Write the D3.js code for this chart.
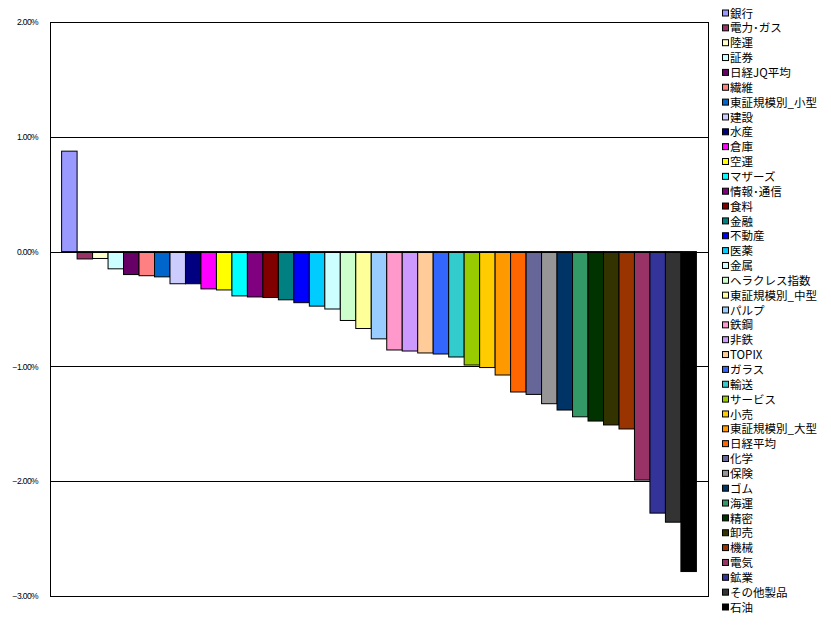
<!DOCTYPE html>
<html>
<head>
<meta charset="utf-8">
<script src="https://cdn.jsdelivr.net/npm/d3@7"></script>
<style>
  html, body { margin: 0; padding: 0; background: #fff; }
  svg { display: block; }
</style>
</head>
<body>
<svg id="chart" width="831" height="629"></svg>
<script>
const categories = ["銀行","電力･ガス","陸運","証券","日経JQ平均","繊維","東証規模別_小型","建設","水産","倉庫","空運","マザーズ","情報･通信","食料","金融","不動産","医薬","金属","ヘラクレス指数","東証規模別_中型","パルプ","鉄鋼","非鉄","TOPIX","ガラス","輸送","サービス","小売","東証規模別_大型","日経平均","化学","保険","ゴム","海運","精密","卸売","機械","電気","鉱業","その他製品","石油"];
const values = [0.875,-0.064,-0.06,-0.15,-0.20,-0.21,-0.22,-0.28,-0.28,-0.325,-0.334,-0.386,-0.395,-0.40,-0.42,-0.445,-0.475,-0.50,-0.60,-0.67,-0.76,-0.857,-0.866,-0.883,-0.892,-0.918,-0.988,-1.01,-1.075,-1.223,-1.244,-1.325,-1.38,-1.439,-1.476,-1.51,-1.545,-1.99,-2.278,-2.357,-2.787];
const colors = ["#9999FF","#993366","#FFFFCC","#CCFFFF","#660066","#FF8080","#0066CC","#CCCCFF","#000080","#FF00FF","#FFFF00","#00FFFF","#800080","#800000","#008080","#0000FF","#00CCFF","#CCFFFF","#CCFFCC","#FFFF99","#99CCFF","#FF99CC","#CC99FF","#FFCC99","#3366FF","#33CCCC","#99CC00","#FFCC00","#FF9900","#FF6600","#666699","#969696","#003366","#339966","#003300","#333300","#993300","#993366","#333399","#333333","#000000"];
const tickValues = [2, 1, 0, -1, -2, -3];

(function () {
const svg = d3.select("#chart");
const pL = 50, pR = 708, pT = 22, pB = 596;

const x = d3.scaleBand().domain(categories).range([pL, pR]).paddingInner(0).paddingOuter(0.75);
const y = d3.scaleLinear().domain([-3, 2]).range([pB, pT]);

// gridlines
svg.append("g").selectAll("line").data(tickValues).join("line")
  .attr("x1", pL).attr("x2", pR)
  .attr("y1", d => Math.round(y(d)) + 0.5).attr("y2", d => Math.round(y(d)) + 0.5)
  .attr("stroke", "#000").attr("stroke-width", 1);

// bars
svg.append("g").selectAll("rect").data(values).join("rect")
  .attr("x", (d, i) => x(categories[i]))
  .attr("width", x.bandwidth())
  .attr("y", d => y(Math.max(0, d)))
  .attr("height", d => Math.abs(y(d) - y(0)))
  .attr("fill", (d, i) => colors[i])
  .attr("stroke", "#000").attr("stroke-width", 1);

// zero line on top
svg.append("line").attr("x1", pL).attr("x2", pR)
  .attr("y1", Math.round(y(0)) + 0.5).attr("y2", Math.round(y(0)) + 0.5)
  .attr("stroke", "#000");

// border
svg.append("rect").attr("x", pL + 0.5).attr("y", Math.round(y(2)) + 0.5)
  .attr("width", pR - pL).attr("height", Math.round(y(-3)) - Math.round(y(2)))
  .attr("fill", "none").attr("stroke", "#000");

// y axis labels
const yAxis = d3.axisLeft(y).tickValues(tickValues).tickSize(0).tickPadding(12)
  .tickFormat(d => d3.format(".2f")(d) + "%");
const ag = svg.append("g").attr("transform", `translate(${pL},0)`).call(yAxis);
ag.select(".domain").remove();
ag.selectAll("text").attr("font-family", "Liberation Sans, Arial, sans-serif")
  .attr("font-size", 8.5).attr("letter-spacing", "-0.6").attr("fill", "#000");

// legend
const lg = svg.append("g");
const rowStep = 14.85, rowStart = 13.5;
const items = lg.selectAll("g").data(categories).join("g")
  .attr("transform", (d, i) => `translate(722, ${rowStart + i * rowStep})`);
items.append("rect").attr("x", 0.5).attr("y", -3.5).attr("width", 6).attr("height", 6)
  .attr("fill", (d, i) => colors[i]).attr("stroke", "#000").attr("stroke-width", 1);
items.append("text").attr("x", 8).attr("y", 0).attr("dy", "0.36em")
  .attr("font-family", "Noto Sans CJK JP, sans-serif").attr("font-size", 11.5)
  .attr("fill", "#000").text(d => d);
})();
</script>
</body>
</html>
